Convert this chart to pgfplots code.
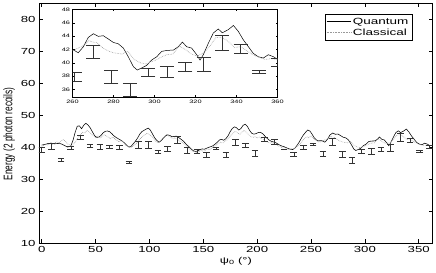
\documentclass[border=0pt]{standalone}
\usepackage{fontspec}
\setmainfont[FakeStretch=1.5]{Liberation Sans}
\newfontfamily\ylfont{Liberation Sans}
\usepackage{graphicx}
\usepackage{pgfplots}
\usepackage{pgfplotstable}
\pgfplotsset{compat=1.18}

\pgfplotstableread{
x y
0 40.6
3 40.8
6 41.1
9 41.2
12 41.0
15 41.1
18 41.0
21 40.5
24 40.0
27 40.3
29 42.0
31 44.5
33 46.5
35 46.6
37 45.7
39 46.8
41 47.4
43 46.9
45 46.0
47 44.8
49 43.6
51 43.0
53 43.1
55 43.6
57 44.4
59 44.9
61 45.0
63 44.8
65 44.2
67 43.5
69 43.0
71 42.6
73 42.2
75 41.8
77 41.2
79 40.5
81 40.0
83 40.2
85 41.0
87 41.8
89 42.8
91 44.0
93 44.8
95 45.2
97 45.6
99 45.9
101 45.2
103 44.0
105 42.8
107 42.0
109 41.5
111 42.0
113 42.8
115 43.5
117 43.8
119 43.6
121 43.2
123 43.3
125 43.4
127 43.0
129 42.5
131 42.0
133 41.3
135 40.6
137 40.0
139 39.3
141 38.8
143 38.6
145 38.8
147 39.2
149 39.4
151 39.3
153 39.6
155 39.9
157 40.1
159 40.4
161 40.9
163 41.5
165 42.2
167 42.4
169 42.1
171 42.6
173 43.5
175 44.8
177 45.8
179 46.3
181 46.0
183 45.3
185 45.8
187 46.8
189 47.1
191 46.4
193 45.2
195 44.3
197 44.0
199 44.2
201 44.5
203 44.6
205 44.2
207 43.5
209 42.8
211 42.2
213 41.8
215 41.6
217 41.4
219 41.0
221 40.6
223 40.3
225 40.1
227 39.8
229 39.5
231 39.3
233 39.2
235 39.6
237 40.5
239 41.5
241 42.7
243 43.8
245 44.6
247 45.3
249 45.0
251 44.0
253 42.9
255 42.2
257 41.9
259 42.0
260 42.0
262.8 41.5
265.3 42.4
267.7 43.8
270.2 44.36
272.6 43.96
275 44.06
277.5 43.56
279.9 43.05
282.3 42.85
284.8 42.2
287.2 40.9
289.7 39.4
291.6 38.9
293.7 39.2
296.2 39.6
298.6 40.4
301.1 40.9
303.5 41.7
306 41.85
309.2 41.9
311.6 42.4
313.6 43.1
315.7 42.4
318.1 42.2
320.6 41.2
322.2 40.4
323.8 41.2
326.3 42.95
328.7 44.47
331.1 45.07
333.1 44.5
336 44.97
338.5 45.6
340.9 44.7
343.3 43.45
345.8 42.4
348.2 41.4
350.6 40.9
353.1 40.7
355.5 41.2
358 40.9
360 40.5
}\quantum

\pgfplotstableread{
x y
0 40.2
2 40.5
4 40.9
6 40.6
8 41.2
10 40.8
12 41.3
14 41.6
16 41.2
18 41.9
20 42.3
22 41.8
24 41.0
26 40.6
28 40.2
30 41.0
32 42.0
34 43.2
36 43.8
38 44.6
40 44.3
42 45.2
44 44.8
46 44.1
48 43.4
50 42.9
52 43.5
54 42.8
56 43.2
58 43.8
60 43.5
62 43.0
64 42.6
66 43.1
68 42.5
70 42.0
72 41.6
74 42.0
76 41.3
78 40.6
80 40.2
82 39.8
84 40.1
86 40.6
88 41.2
90 42.0
92 42.8
94 43.4
96 43.9
98 44.3
100 43.8
102 43.5
104 42.6
106 41.8
108 41.3
110 41.9
112 42.6
114 43.2
116 43.9
118 43.4
120 43.0
122 42.6
124 42.9
126 42.4
128 41.9
130 41.5
132 41.0
134 40.4
136 39.8
138 39.2
140 38.7
142 38.5
144 38.3
146 38.6
148 38.9
150 38.7
152 39.0
154 39.4
156 39.2
158 39.7
160 40.2
162 40.6
164 41.1
166 41.5
168 41.2
170 41.7
172 42.2
174 43.0
176 43.8
178 44.5
180 44.9
182 44.3
184 44.0
186 44.7
188 45.2
190 44.6
192 43.9
194 43.3
196 43.0
198 43.2
200 42.8
202 43.1
204 42.6
206 42.3
208 41.8
210 41.5
212 41.2
214 41.4
216 40.9
218 40.7
220 40.3
222 40.0
224 39.7
226 39.9
228 39.4
230 39.2
232 39.5
234 39.3
236 39.8
238 40.4
240 41.0
242 41.8
244 42.7
246 43.2
248 42.9
250 43.4
252 42.8
254 42.2
256 41.8
258 41.5
260 41.8
262 42.1
265 42.5
268 43.3
270 43.1
272 43.0
274 42.4
276 42.0
278 41.7
280 41.5
282 41.4
284 41.3
287 41.7
290 40.5
293 40.0
296 39.8
298 40.1
300 40.3
303 40.8
306 41.2
309 41.3
312 42.5
315 42.0
318 41.3
321 41.0
324 41.5
327 42.5
330 43.8
333 43.8
336 43.2
339 42.3
342 42.4
345 41.8
348 41.2
351 40.8
354 40.5
357 40.6
360 40.5
}\classical

\pgfplotstableread{
x y e
0 39.2 0.8
9 40.2 1.0
18 36.1 0.5
27 39.8 0.5
36 43.0 0.7
45 40.4 0.35
54 40.0 0.75
63 40.2 0.5
72 40.0 0.55
81 35.15 0.35
90 40.6 1.1
99 40.7 1.2
108 38.5 0.6
117 39.4 0.8
126 42.3 1.1
135 39.1 0.9
144 38.6 0.7
153 37.6 0.8
162 39.7 0.3
171 37.6 0.8
180 41.4 0.9
189 40.6 0.6
198 38.0 0.95
207 42.4 0.65
216 41.6 0.7
225 39.3 0.15
234 37.8 0.65
243 39.9 0.65
252 40.9 0.35
261 37.85 0.7
270 41.7 1.0
279 37.85 0.95
288 35.95 0.95
297 38.55 0.6
306 38.65 0.85
315 39.4 0.62
324 39.8 1.03
333 43.0 1.2
342 42.1 0.7
351 38.6 0.25
360 40.1 0.6
}\errdata

\begin{document}
\begin{tikzpicture}
\path[use as bounding box] (0,0) rectangle (436bp,273bp);
\begin{axis}[
  at={(39bp,30bp)}, anchor=south west,
  scale only axis, width=393.7bp, height=240bp,
  xmin=-2.5, xmax=363, ymin=10, ymax=85,
  xtick={0,50,...,350}, ytick={10,20,...,80},
  tick align=inside, xtick pos=both, ytick pos=both,
  major tick length=4bp,
  tick style={black, line width=0.5pt},
  axis line style={black, line width=0.6pt},
  /pgf/number format/assume math mode=true,
  tick label style={font=\fontsize{8.8bp}{10bp}\selectfont},
  xlabel={ψ\textsubscript{0} (°)},
  ylabel={\scalebox{1}[1.5]{\ylfont\fontsize{8.3bp}{10bp}\selectfont Energy (2 photon recoils)}},
  xlabel style={font=\fontsize{8.6bp}{10bp}\selectfont, yshift=2bp},
  ylabel style={at={(ticklabel cs:0.455)}, yshift=-1bp},
  legend style={at={(0.948,0.954)}, anchor=north east, draw=black, line width=0.5pt,
    font=\fontsize{9bp}{10bp}\selectfont, inner sep=1.5bp, row sep=-1bp,
    legend cell align=left},
  legend image code/.code={\draw[#1, line width=0.5pt] (0bp,0bp) -- (24bp,0bp);},
]
\addplot[black, line width=0.55pt] table[x=x,y=y] {\quantum};
\addlegendentry{Quantum}
\addplot[gray!80, densely dotted, line width=0.6pt] table[x=x,y=y] {\classical};
\addlegendentry{Classical}
\addplot[draw=none, forget plot,
  error bars/.cd, y dir=both, y explicit,
  error bar style={black!80, line width=0.5pt},
  error mark options={rotate=90, mark size=3.3bp, black!80, line width=0.5pt}]
  table[x=x,y=y,y error=e] {\errdata};
\end{axis}
\begin{axis}[
  at={(72.5bp,175.7bp)}, anchor=south west,
  scale only axis, width=205bp, height=87.8bp,
  xmin=260, xmax=360, ymin=34.8, ymax=48,
  xtick={260,280,...,360}, ytick={36,38,...,48},
  tick align=inside, xtick pos=both, ytick pos=both,
  major tick length=2bp,
  tick style={black, line width=0.4pt},
  axis line style={black, line width=0.5pt},
  axis background/.style={fill=white},
  /pgf/number format/assume math mode=true,
  /pgf/number format/1000 sep={},
  tick label style={font=\fontsize{4.9bp}{6bp}\selectfont},
  xticklabel style={yshift=1bp},
  yticklabel style={xshift=1bp},
]
\addplot[black, line width=0.5pt] table[x=x,y=y] {\quantum};
\addplot[gray!80, densely dotted, line width=0.6pt] table[x=x,y=y] {\classical};
\addplot[draw=none,
  error bars/.cd, y dir=both, y explicit,
  error bar style={black!80, line width=0.5pt},
  error mark options={rotate=90, mark size=7bp, black!80, line width=0.5pt}]
  table[x=x,y=y,y error=e] {\errdata};
\end{axis}
\end{tikzpicture}
\end{document}
